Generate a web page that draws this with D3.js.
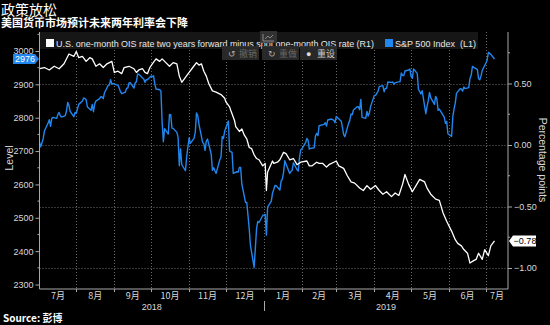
<!DOCTYPE html>
<html><head><meta charset="utf-8">
<script src="https://cdn.jsdelivr.net/npm/d3@7"></script>
<style>
html,body{margin:0;padding:0;background:#000;}
svg{display:block;}
text{font-family:"Liberation Sans",Arial,"Noto Sans CJK SC",sans-serif;}
.cjk{font-family:"Noto Sans CJK SC","Liberation Sans",sans-serif;}
</style></head><body>
<svg id="c" width="550" height="325"></svg>
<script>
// S&P 500 Index (left axis)
const spxDates = ["180702","180703","180705","180706","180709","180710","180711","180712","180713","180716","180717","180718","180719","180720","180723","180724","180725","180726","180727","180730","180731",
"180801","180802","180803","180806","180807","180808","180809","180810","180813","180814","180815","180816","180817","180820","180821","180822","180823","180824","180827","180828","180829","180830","180831",
"180904","180905","180906","180907","180910","180911","180912","180913","180914","180917","180918","180919","180920","180921","180924","180925","180926","180927","180928",
"181001","181002","181003","181004","181005","181008","181009","181010","181011","181012","181015","181016","181017","181018","181019","181022","181023","181024","181025","181026","181029","181030","181031",
"181101","181102","181105","181106","181107","181108","181109","181112","181113","181114","181115","181116","181119","181120","181121","181123","181126","181127","181128","181129","181130",
"181203","181204","181206","181207","181210","181211","181212","181213","181214","181217","181218","181219","181220","181221","181224","181226","181227","181228","181231",
"190102","190103","190104","190107","190108","190109","190110","190111","190114","190115","190116","190117","190118","190122","190123","190124","190125","190128","190129","190130","190131",
"190201","190204","190205","190206","190207","190208","190211","190212","190213","190214","190215","190219","190220","190221","190222","190225","190226","190227","190228",
"190301","190304","190305","190306","190307","190308","190311","190312","190313","190314","190315","190318","190319","190320","190321","190322","190325","190326","190327","190328","190329",
"190401","190402","190403","190404","190405","190408","190409","190410","190411","190412","190415","190416","190417","190418","190422","190423","190424","190425","190426","190429","190430",
"190501","190502","190503","190506","190507","190508","190509","190510","190513","190514","190515","190516","190517","190520","190521","190522","190523","190524","190528","190529","190530","190531",
"190603","190604","190605","190606","190607","190610","190611","190612","190613","190614","190617","190618","190619","190620","190621","190624","190625","190626","190627","190628",
"190701","190702","190703","190705","190708"];
const spxValues = [2727,2713,2737,2760,2784,2794,2774,2798,2801,2798,2810,2816,2805,2802,2806,2820,2846,2837,2819,2803,2816,
2813,2827,2840,2850,2859,2858,2854,2833,2822,2840,2818,2841,2850,2857,2863,2862,2857,2875,2897,2898,2914,2901,2902,
2897,2889,2878,2872,2877,2888,2889,2904,2905,2889,2904,2908,2931,2930,2919,2916,2906,2914,2914,
2925,2923,2926,2902,2886,2884,2880,2786,2728,2767,2751,2810,2809,2769,2768,2756,2741,2656,2706,2659,2641,2683,2712,
2740,2723,2738,2756,2814,2807,2781,2726,2722,2702,2730,2736,2691,2642,2650,2633,2674,2682,2744,2738,2760,
2790,2700,2696,2633,2638,2637,2651,2651,2600,2546,2546,2507,2467,2417,2351,2468,2489,2486,2507,
2510,2448,2532,2550,2574,2585,2597,2596,2583,2610,2616,2636,2671,2633,2639,2642,2665,2644,2640,2681,2704,
2707,2725,2738,2732,2706,2708,2710,2745,2753,2746,2776,2780,2785,2775,2793,2796,2794,2792,2785,
2804,2793,2790,2771,2749,2743,2783,2792,2811,2809,2823,2833,2833,2824,2855,2801,2798,2819,2805,2815,2834,
2867,2867,2873,2879,2893,2896,2878,2888,2888,2907,2906,2907,2900,2905,2908,2934,2927,2926,2940,2943,2946,
2924,2918,2946,2933,2884,2879,2871,2881,2812,2834,2851,2876,2860,2840,2864,2856,2822,2826,2802,2783,2789,2752,
2744,2803,2826,2844,2873,2887,2886,2880,2892,2887,2890,2918,2927,2954,2951,2945,2917,2914,2925,2942,
2964,2973,2996,2990,2976];

// U.S. one-month OIS 2y forward minus spot (right axis, percentage points)
const oisDates = ["180702","180706","180710","180714","180718","180722","180726","180730","180801","180803","180806","180809","180812","180814","180817","180820","180823","180826","180830",
"180901","180904","180907","180909","180913","180917","180919","180921","180924","180926","180928","180930",
"181002","181005","181008","181010","181013","181016","181019","181022","181024","181026","181029",
"181101","181104","181107","181109","181111","181113","181115","181117","181120","181123","181127","181130",
"181201","181204","181205","181208","181209","181212","181214","181216","181218","181220","181222","181224","181226","181228","181231",
"190102","190103","190104","190108","190109","190112","190114","190117","190119","190122","190125","190128","190131",
"190205","190207","190209","190213","190215","190218","190221","190223","190227",
"190301","190303","190307","190310","190313","190316","190320","190323","190326","190329",
"190402","190405","190408","190411","190415","190418","190421","190424","190426","190429",
"190502","190505","190508","190512","190514","190517","190521","190524","190527","190530",
"190603","190606","190608","190611","190613","190616","190618","190621","190623","190625","190628","190630",
"190703","190705","190708"];
const oisValues = [0.62,0.63,0.61,0.64,0.62,0.66,0.74,0.72,0.76,0.71,0.72,0.68,0.71,0.70,0.64,0.66,0.63,0.66,0.68,
0.59,0.60,0.58,0.63,0.64,0.62,0.59,0.61,0.62,0.59,0.58,0.63,
0.66,0.70,0.68,0.70,0.67,0.64,0.67,0.66,0.56,0.51,0.55,
0.59,0.63,0.67,0.65,0.66,0.60,0.56,0.50,0.44,0.43,0.41,0.38,
0.35,0.31,0.28,0.20,0.15,0.11,0.13,0.08,0.05,-0.02,-0.03,-0.08,-0.11,-0.12,-0.17,
-0.15,-0.37,-0.22,-0.13,-0.15,-0.14,-0.12,-0.06,-0.07,-0.12,-0.11,-0.16,-0.14,
-0.13,-0.17,-0.17,-0.14,-0.15,-0.15,-0.18,-0.16,-0.14,
-0.13,-0.17,-0.19,-0.25,-0.30,-0.31,-0.35,-0.37,-0.33,-0.36,
-0.33,-0.37,-0.40,-0.38,-0.42,-0.39,-0.41,-0.32,-0.24,-0.32,
-0.38,-0.33,-0.28,-0.30,-0.35,-0.40,-0.44,-0.45,-0.55,-0.62,
-0.70,-0.77,-0.80,-0.82,-0.85,-0.88,-0.96,-0.94,-0.93,-0.88,-0.93,-0.85,
-0.90,-0.82,-0.78];

const leftTicks = [2300,2400,2500,2600,2700,2800,2900,3000];
const rightTicks = [-1.00,-0.50,0.00,0.50];
const monthNames = ["1月","2月","3月","4月","5月","6月","7月","8月","9月","10月","11月","12月"];
const yearLabels = ["2018","2019"];
const titleText = "政策放松";
const subtitleText = "美国货币市场预计未来两年利率会下降";
const legendOis = "U.S. one-month OIS rate two years forward minus spot one-month OIS rate (R1)";
const legendSpx = "S&P 500 Index  (L1)";
const sourceText = "Source: 彭博";

const parse = d3.timeParse("%y%m%d");
const spx = spxDates.map((d,i)=>({date:parse(d), v:spxValues[i]}));
const ois = oisDates.map((d,i)=>({date:parse(d), v:oisValues[i]}));

const L=39.5, R=508, T=32, B=289;
const svg = d3.select("#c");
svg.append("rect").attr("width",550).attr("height",325).attr("fill","#000");

const x = d3.scaleTime().domain([new Date(2018,6,2), new Date(2019,6,19)]).range([L,R]);
const yL = d3.scaleLinear().domain([2300,3000]).range([284.5,51]);
const yR = d3.scaleLinear().domain([-1,0.5]).range([268,83.5]);

const BLUE="#2186ee", GRID="#6a6a6a", AX="#a8a8a8", TXT="#d8d8d8";

// title
svg.append("text").attr("class","cjk").attr("x",1).attr("y",14.5).attr("fill","#fff").attr("font-size",14).text(titleText);
svg.append("text").attr("class","cjk").attr("x",1).attr("y",26.5).attr("fill","#fff").attr("font-size",11).attr("font-weight","bold").text(subtitleText);

// gridlines
const monthStarts = d3.timeMonth.range(new Date(2018,7,1), new Date(2019,6,2));
svg.append("g").selectAll("line").data(monthStarts).join("line")
  .attr("x1",d=>Math.round(x(d))+0.5).attr("x2",d=>Math.round(x(d))+0.5).attr("y1",T).attr("y2",B)
  .attr("stroke",GRID).attr("stroke-dasharray","1,2").attr("stroke-width",1);
svg.append("g").selectAll("line").data(rightTicks).join("line")
  .attr("x1",L).attr("x2",R).attr("y1",d=>Math.round(yR(d))+0.5).attr("y2",d=>Math.round(yR(d))+0.5)
  .attr("stroke",GRID).attr("stroke-dasharray","1,2").attr("stroke-width",1);

// lines
svg.append("clipPath").attr("id","pc").append("rect").attr("x",L).attr("y",T).attr("width",R-L).attr("height",B-T);
svg.append("path").datum(spx).attr("clip-path","url(#pc)")
  .attr("d", d3.line().x(d=>x(d.date)).y(d=>yL(d.v)))
  .attr("fill","none").attr("stroke",BLUE).attr("stroke-width",1.4).attr("stroke-linejoin","round");
svg.append("path").datum(ois).attr("clip-path","url(#pc)")
  .attr("d", d3.line().x(d=>x(d.date)).y(d=>yR(d.v)))
  .attr("fill","none").attr("stroke","#fff").attr("stroke-width",1.3).attr("stroke-linejoin","round");

// left axis
const gl = svg.append("g").attr("transform",`translate(${L},0)`);
gl.call(d3.axisLeft(yL).tickValues(leftTicks).tickSize(4).tickPadding(2).tickFormat(d3.format("d")));
gl.select(".domain").remove();
gl.selectAll(".tick line").attr("stroke",AX);
gl.selectAll(".tick text").attr("fill",TXT).attr("font-size",9).attr("font-family","Liberation Sans, Arial, sans-serif");
svg.append("g").selectAll("line").data(d3.range(2350,3051,100)).join("line")
  .attr("x1",L-2).attr("x2",L).attr("y1",d=>yL(d)).attr("y2",d=>yL(d)).attr("stroke",AX);
svg.append("line").attr("x1",L).attr("x2",L).attr("y1",T).attr("y2",B).attr("stroke",AX);
svg.append("text").attr("transform","translate(13,158) rotate(-90)").attr("text-anchor","middle")
  .attr("fill",TXT).attr("font-size",10.5).text("Level");

// right axis
const gr = svg.append("g").attr("transform",`translate(${R},0)`);
gr.call(d3.axisRight(yR).tickValues(rightTicks).tickSize(4).tickPadding(2).tickFormat(d3.format(".2f")));
gr.select(".domain").remove();
gr.selectAll(".tick line").attr("stroke",AX);
gr.selectAll(".tick text").attr("fill",TXT).attr("font-size",9).attr("font-family","Liberation Sans, Arial, sans-serif");
svg.append("g").selectAll("line").data([-0.75,-0.25,0.25,0.75]).join("line")
  .attr("x1",R).attr("x2",R+2).attr("y1",d=>yR(d)).attr("y2",d=>yR(d)).attr("stroke",AX);
svg.append("line").attr("x1",R).attr("x2",R).attr("y1",T).attr("y2",B).attr("stroke",AX);
svg.append("text").attr("transform","translate(539,160) rotate(90)").attr("text-anchor","middle")
  .attr("fill",TXT).attr("font-size",10.5).text("Percentage points");

// bottom axis
svg.append("line").attr("x1",L).attr("x2",R).attr("y1",B).attr("y2",B).attr("stroke",AX);
svg.append("g").selectAll("line").data(monthStarts).join("line")
  .attr("x1",d=>Math.round(x(d))+0.5).attr("x2",d=>Math.round(x(d))+0.5).attr("y1",B).attr("y2",B+3).attr("stroke",AX);
const d0 = x.domain()[0], d1 = x.domain()[1];
const allMonths = d3.timeMonth.range(new Date(2018,6,1), new Date(2019,6,2));
svg.append("g").selectAll("text").data(allMonths).join("text").attr("class","cjk")
  .attr("x",d=>{const s=d<d0?d0:d; const n=d3.timeMonth.offset(d,1); const e=n>d1?d1:n; return (x(s)+x(e))/2;})
  .attr("y",299).attr("text-anchor","middle").attr("fill",TXT).attr("font-size",9)
  .text(d=>monthNames[d.getMonth()]);
const yb = new Date(2019,0,1);
svg.append("line").attr("x1",Math.round(x(yb))+0.5).attr("x2",Math.round(x(yb))+0.5).attr("y1",301).attr("y2",311).attr("stroke",AX);
svg.append("g").selectAll("text").data(yearLabels).join("text")
  .attr("x",(d,i)=> i===0 ? (x(d0)+x(yb))/2 : (x(yb)+x(d1))/2)
  .attr("y",310).attr("text-anchor","middle").attr("fill",TXT).attr("font-size",9).text(d=>d);

// last value labels
const lastS = spx[spx.length-1], lastO = ois[ois.length-1];
const ys = yL(lastS.v);
svg.append("path").attr("d",`M13,${ys-5}H35L39,${ys}L35,${ys+5}H13Z`).attr("fill",BLUE);
svg.append("text").attr("x",25).attr("y",ys+3.2).attr("text-anchor","middle").attr("fill","#fff").attr("font-size",9).text(d3.format("d")(lastS.v));
const yo = yR(lastO.v);
svg.append("path").attr("d",`M509,${yo}L513,${yo-5.5}H536V${yo+5.5}H513Z`).attr("fill","#fff");
svg.append("text").attr("x",525).attr("y",yo+3.2).attr("text-anchor","middle").attr("fill","#000").attr("font-size",9).text(d3.format(".2f")(lastO.v));

// legend
svg.append("rect").attr("x",L+0.5).attr("y",32).attr("width",438).attr("height",17).attr("fill","#161616");
svg.append("rect").attr("x",46).attr("y",39).attr("width",8).attr("height",8).attr("fill","#fff");
svg.append("text").attr("x",56).attr("y",47).attr("fill","#e8e8e8").attr("font-size",9.5)
  .attr("textLength",318).attr("lengthAdjust","spacingAndGlyphs").text(legendOis);
svg.append("rect").attr("x",385).attr("y",39).attr("width",8).attr("height",8).attr("fill",BLUE);
svg.append("text").attr("x",395).attr("y",47).attr("fill","#e8e8e8").attr("font-size",9.5).attr("xml:space","preserve")
  .attr("textLength",81).attr("lengthAdjust","spacingAndGlyphs").text(legendSpx);

// toolbar overlay (UI artifacts)
const tb = svg.append("g");
tb.append("rect").attr("x",260).attr("y",31).attr("width",17).attr("height",12).attr("fill","#3a3a3a").attr("opacity",0.8);
tb.append("path").attr("d","M263,41V34M263,41H274M265,39L268,36L270,38L273,35").attr("stroke","#888").attr("fill","none");
[[222,"↺","撤销","#666"],[262,"↻","重做","#666"],[300,"●","重设","#ccc"]].forEach(([bx,ic,lb,c])=>{
  tb.append("rect").attr("x",bx).attr("y",46).attr("width",37).attr("height",14).attr("fill","#2b2b2b").attr("opacity",0.92);
  tb.append("text").attr("x",bx+6).attr("y",57).attr("fill",c==="#666"?"#aaa":"#ddd").attr("font-size",9).attr("font-family","DejaVu Sans").text(ic);
  tb.append("text").attr("class","cjk").attr("x",bx+17).attr("y",57).attr("fill",c).attr("font-size",9).text(lb);
});

// source
svg.append("text").attr("class","cjk").attr("x",3).attr("y",322).attr("fill","#fff").attr("font-size",10).attr("font-weight","bold").text(sourceText);
</script>
</body></html>
